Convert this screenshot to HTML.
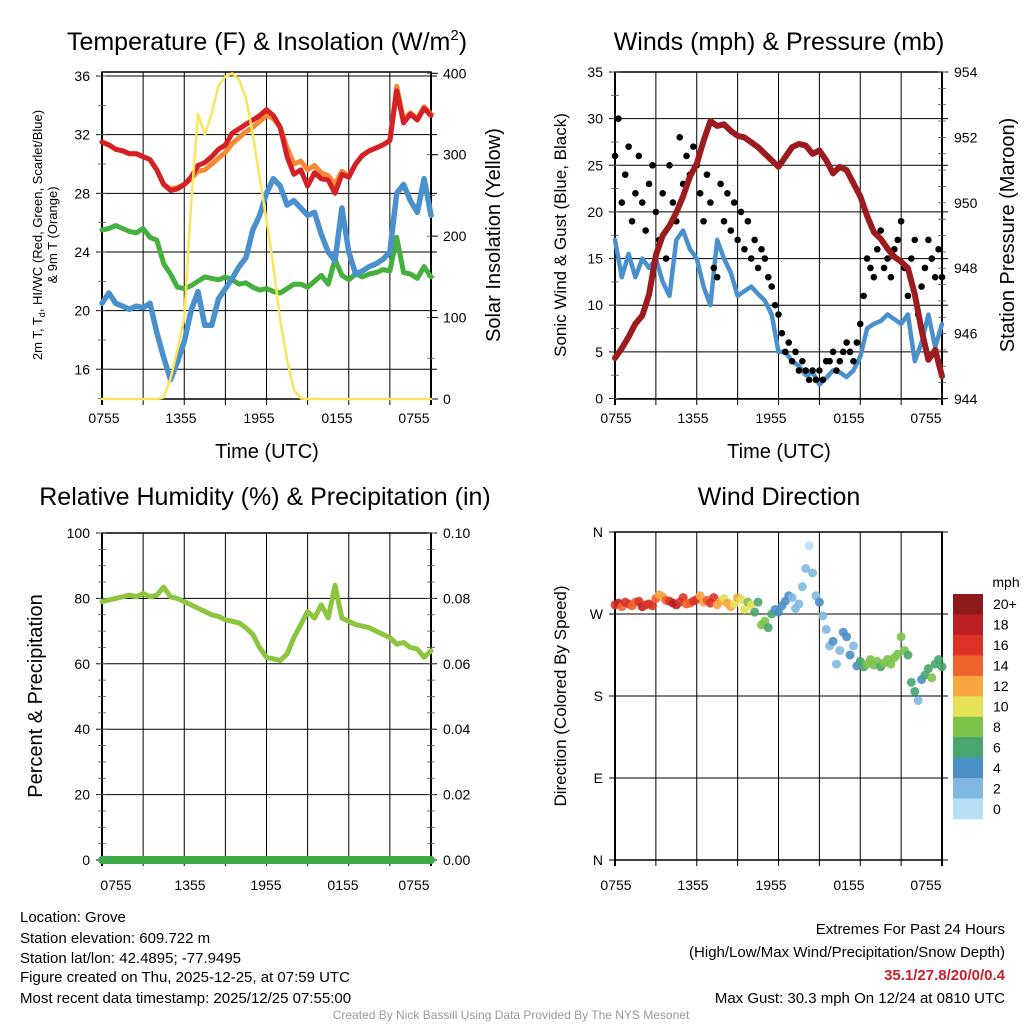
<!DOCTYPE html>
<html><head><meta charset="utf-8"><style>
html,body{margin:0;padding:0;background:#fff;}
svg{display:block;font-family:"Liberation Sans",sans-serif;}
</style></head><body>
<svg id="c" width="1024" height="1024" viewBox="0 0 1024 1024" xmlns="http://www.w3.org/2000/svg">
<g id="texts">
<text x="267" y="50" font-size="25" text-anchor="middle">Temperature (F) &amp; Insolation (W/m<tspan font-size="15" dy="-10">2</tspan><tspan dy="10">)</tspan></text>
<text x="779" y="50" font-size="25" text-anchor="middle">Winds (mph) &amp; Pressure (mb)</text>
<text x="265" y="505" font-size="25" text-anchor="middle">Relative Humidity (%) &amp; Precipitation (in)</text>
<text x="779" y="505" font-size="25" text-anchor="middle">Wind Direction</text>
<text x="267" y="458" font-size="20" text-anchor="middle">Time (UTC)</text>
<text x="779" y="458" font-size="20" text-anchor="middle">Time (UTC)</text>
<text transform="translate(42,235) rotate(-90)" font-size="13" text-anchor="middle">2m T, T<tspan font-size="9" dy="3">d</tspan><tspan dy="-3">, HI/WC (Red, Green, Scarlet/Blue)</tspan></text>
<text transform="translate(57,235) rotate(-90)" font-size="13" text-anchor="middle">&amp; 9m T (Orange)</text>
<text transform="translate(500,235) rotate(-90)" font-size="20" text-anchor="middle">Solar Insolation (Yellow)</text>
<text transform="translate(566,235) rotate(-90)" font-size="17" text-anchor="middle">Sonic Wind &amp; Gust (Blue, Black)</text>
<text transform="translate(1014,235) rotate(-90)" font-size="20" text-anchor="middle">Station Pressure (Maroon)</text>
<text transform="translate(42,696) rotate(-90)" font-size="20" text-anchor="middle">Percent &amp; Precipitation</text>
<text transform="translate(566,696) rotate(-90)" font-size="17" text-anchor="middle">Direction (Colored By Speed)</text>
<text x="1006" y="587" font-size="14" text-anchor="middle">mph</text>
<g font-size="15">
<text x="20" y="922">Location: Grove</text>
<text x="20" y="943">Station elevation: 609.722 m</text>
<text x="20" y="963">Station lat/lon: 42.4895; -77.9495</text>
<text x="20" y="982">Figure created on Thu, 2025-12-25, at 07:59 UTC</text>
<text x="20" y="1003">Most recent data timestamp: 2025/12/25 07:55:00</text>
</g>
<g font-size="15" text-anchor="end">
<text x="1005" y="934">Extremes For Past 24 Hours</text>
<text x="1005" y="957">(High/Low/Max Wind/Precipitation/Snow Depth)</text>
<text x="1005" y="980" fill="#c8202a" font-weight="bold">35.1/27.8/20/0/0.4</text>
<text x="1005" y="1003">Max Gust: 30.3 mph On 12/24 at 0810 UTC</text>
</g>
<text x="511" y="1019" font-size="12" fill="#999" text-anchor="middle">Created By Nick Bassill Using Data Provided By The NYS Mesonet</text>
</g>
</svg>
<script>
// ---- data ----
const timeLabels = ["0755","1355","1955","0155","0755"];
const tempRed = [31.5,31.3,31.0,30.9,30.7,30.7,30.5,30.3,29.6,28.6,28.2,28.3,28.6,29.1,29.9,30.1,30.5,31.0,31.3,32.1,32.4,32.7,33.0,33.3,33.7,33.3,32.5,30.5,29.3,29.6,28.5,29.4,29.0,28.9,28.0,29.3,29.1,30.0,30.6,30.9,31.1,31.3,31.6,35.0,32.8,33.4,33.0,33.8,33.3];
const tempOrange = [31.5,31.3,31.0,30.9,30.7,30.7,30.5,30.3,29.6,28.6,28.3,28.4,28.6,29.0,29.5,29.6,30.0,30.4,30.8,31.4,31.8,32.2,32.5,32.9,33.3,33.1,32.5,31.1,30.0,30.2,29.6,29.9,29.4,29.2,28.6,29.5,29.2,30.0,30.6,30.9,31.1,31.3,31.6,35.3,33.0,33.5,33.1,33.9,33.4];
const tempBlue = [20.5,21.2,20.5,20.3,20.1,20.3,20.2,20.5,18.5,16.8,15.3,16.5,17.9,20.0,21.3,19.0,19.0,20.8,21.5,22.2,23.0,23.6,25.5,26.5,28.0,29.0,28.5,27.2,27.5,27.0,26.5,26.7,25.2,24.0,23.4,27.0,24.0,22.5,22.7,23.0,23.2,23.5,24.0,28.0,28.6,27.5,26.7,29.0,26.5];
const tempGreen = [25.5,25.6,25.8,25.6,25.4,25.3,25.6,25.0,24.8,23.2,22.5,21.6,21.5,21.7,22.0,22.3,22.2,22.1,22.3,22.1,21.8,21.9,21.6,21.4,21.5,21.3,21.2,21.5,21.8,21.8,21.6,22.0,22.4,21.8,23.5,22.4,22.1,22.5,22.3,22.5,22.6,22.8,22.7,25.0,22.6,22.5,22.2,23.0,22.3];
const insolation = [0,0,0,0,0,0,0,0,0,2,25,60,100,240,350,325,350,385,396,400,392,370,325,272,220,163,97,48,11,1,0,0,0,0,0,0,0,0,0,0,0,0,0,0,0,0,0,0,0];
const tempTicks = [16,20,24,28,32,36];
const insoTicks = [0,100,200,300,400];
const pressure = [945.25,945.55,945.9,946.3,946.55,947.2,948.4,949.0,949.3,949.7,950.2,950.8,951.2,951.9,952.5,952.35,952.4,952.2,952.05,952.0,951.85,951.7,951.5,951.3,951.1,951.4,951.7,951.8,951.75,951.5,951.6,951.3,950.9,951.1,951.0,950.6,950.2,949.6,949.1,948.9,948.6,948.35,948.2,948.0,947.2,946.1,945.2,945.5,944.7];
const windSpeed = [17,13,15.5,13,15,14,15,12.5,11,17,18,16,15,12,10,17,15,13.5,11,11.5,12,11.2,10.5,9,5,5,4,3.5,2.5,2.8,1.5,2.2,3,2.8,2.3,3,4.5,7.5,8,8.3,9,8.5,8.0,9,4,6,9,5.5,8];
const gusts = [26,30,21,24,27,19,22,26,21,18,23,25, 20,17,22,15,25,21,19,28,23,26,24,27, 25,22,19,24,21,14,13,23,19,22,18,21, 17,20,16,19,15,17,14,16,15,13,12,10, 9,7,5,6,4,5,3,4,3,2,3,2, 3,2,4,4,5,3,4,5,6,5,4,6, 8,11,15,14,13,16,18,14,15,13,16,17, 19,14,11,15,17,9,12,14,17,15,13,16,13];
const windTicks = [0,5,10,15,20,25,30,35];
const presTicks = [944,946,948,950,952,954];
const rh = [79,79.5,80,80.5,81,80.5,81.5,80.5,81,83.5,80.5,80,79,78,77,76,75,74.5,73.5,73,72.5,71,69,65,62,61.5,61,63,68,72,76,74,78,74,84,74,73,72,71.5,71,70,69,68,66,66.5,65,64.5,62,64];
const precip = [0,0,0,0,0,0,0,0,0,0,0,0,0,0,0,0,0,0,0,0,0,0,0,0,0,0,0,0,0,0,0,0,0,0,0,0,0,0,0,0,0,0,0,0,0,0,0,0,0];
const rhTicks = [0,20,40,60,80,100];
const precipTicks = ["0.00","0.02","0.04","0.06","0.08","0.10"];
const dirDeg = [280,282,278,283,281,279,283,284,278,280,281,279, 287,291,289,285,284,282,280,283,288,281,282,284, 286,290,283,285,282,288,280,284,287,282,278,281, 288,286,275,283,280,272,283,258,262,255,270,275, 272,279,284,290,288,276,281,300,320,345,315,290, 283,268,253,235,240,215,230,250,245,225,235,213, 218,212,215,220,214,218,212,216,220,215,222,226, 245,230,225,195,185,175,198,203,210,200,215,220,212];
const dirSpeed = [17,18,15,16,17,14,15,16,18,17,16,17, 15,13,12,14,17,19,18,16,17,15,14,16, 16,13,12,14,17,16,12,13,11,12,13,10, 12,11,10,9,11,7,6,8,9,7,6,5, 4,4,5,4,3,3,2,3,2,1,3,3, 5,3,3,3,4,2,3,4,5,5,3,4, 6,7,8,8,9,8,7,8,9,8,9,8, 9,8,6,7,6,3,5,6,7,8,6,6,7];
const dirLabels = ["N","E","S","W","N"];
const cbLabels = ["20+","18","16","14","12","10","8","6","4","2","0"];
const cbColors = ["#8f1a1c","#bb1e23","#dc3326","#f0622b","#f6a541","#e6e156","#7cc24a","#48a56e","#4a8fc6","#7fb9e2","#b5e0f5"];

// ---- helpers ----
const NS="http://www.w3.org/2000/svg";
const svg=document.getElementById('c');
function mk(tag,attrs,parent){const e=document.createElementNS(NS,tag);for(const k in attrs)e.setAttribute(k,attrs[k]);(parent||svg).appendChild(e);return e;}
function lin(d0,d1,r0,r1){return v=>r0+(v-d0)/(d1-d0)*(r1-r0);}
function series(arr,xs,ys,g,stroke,w){
  const pts=arr.map((v,i)=>xs(i*24/(arr.length-1)).toFixed(1)+","+ys(v).toFixed(1)).join(" ");
  return mk('polyline',{points:pts,fill:'none',stroke:stroke,'stroke-width':w,'stroke-linejoin':'round','stroke-linecap':'round'},g);
}
function frame(L,T,R,B,name){
  const g=mk('g',{});
  
  
  for(let h=0;h<=24;h+=3){const x=L+(R-L)*h/24;const ln=mk('line',{x1:x,y1:T,x2:x,y2:B+6,stroke:'#000','stroke-width':h%24?1:2},g);
    
    }
  const bx=mk('rect',{x:L,y:T,width:R-L,height:B-T,fill:'none',stroke:'#000','stroke-width':1.5},g);
  
  
  return g;
}
function xLabels(pos,y,g){
  timeLabels.forEach((t,i)=>{const e=mk('text',{x:pos[i],y:y,'font-size':14,'text-anchor':'middle'},g);e.textContent=t;
    
    });
}
function hgrid(ys,vals,L,R,g,leftLab,fmt){
  vals.forEach(v=>{const y=ys(v);const l=mk('line',{x1:L-6,y1:y,x2:R+6,y2:y,stroke:'#000','stroke-width':1},g);
    
    
    if(leftLab){const t=mk('text',{x:L-12,y:y+5,'font-size':14,'text-anchor':'end'},g);t.textContent=fmt?fmt(v):v;
      
      }});
}
function rightLabels(ys,vals,labels,R,g){
  vals.forEach((v,i)=>{const t=mk('text',{x:R+12,y:ys(v)+5,'font-size':14},g);t.textContent=labels[i];
    
    });
}
function minor(ys,from,to,step,x,g){for(let v=from;v<=to+1e-9;v+=step){const y=ys(v);mk('line',{x1:x-4,y1:y,x2:x+4,y2:y,stroke:'#555','stroke-width':0.8},g);}}

// ---- Panel 1: temperature ----
{
const L=102,R=431,T=72,B=399;
const g=frame(L,T,R,B,'temp-panel');
const xs=lin(0,24,L,R), ys=lin(16,36,369.3,76), yi=lin(0,400,399,73.3);
hgrid(ys,tempTicks,L,R,g,true);
minor(ys,14,36,2,L,g); minor(yi,0,400,50,R,g);
rightLabels(yi,insoTicks,insoTicks,R,g);
insoTicks.forEach(v=>mk('line',{x1:R,y1:yi(v),x2:R+7,y2:yi(v),stroke:'#000'},g));
xLabels([104,181,259,337,414],423,g);
const s1=series(tempGreen,xs,ys,g,'#45b03e',5);  
const s2=series(tempBlue,xs,ys,g,'#4a90cc',5.5);  
const s3=series(tempOrange,xs,ys,g,'#f58a35',5);  
const s4=series(tempRed,xs,ys,g,'#d42026',5);  
const s5=series(insolation,xs,yi,g,'#fbe55a',2.5);  
}
// ---- Panel 2: wind & pressure ----
{
const L=615,R=942,T=72,B=399;
const g=frame(L,T,R,B,'wind-panel');
const xs=lin(0,24,L,R), ys=lin(0,35,398.5,72), yp=lin(944,954,399,72);
hgrid(ys,windTicks,L,R,g,true);
minor(ys,0,35,2.5,L,g); minor(yp,944,954,0.5,R,g);
rightLabels(yp,presTicks,presTicks,R,g);
xLabels([616,693,771,849,926],423,g);
const w=series(windSpeed,xs,ys,g,'#4a90cc',4.5);  
gusts.forEach((v,i)=>{const c=mk('circle',{cx:xs(i*24/(gusts.length-1)),cy:ys(v),r:3.3,fill:'#000'},g);
  
  });
const p=series(pressure,xs,yp,g,'#9b1b1e',6);  
}
// ---- Panel 3: RH ----
{
const L=102,R=431,T=533,B=860;
const g=frame(L,T,R,B,'rh-panel');
const xs=lin(0,24,L,R), ys=lin(0,100,860,533);
hgrid(ys,rhTicks,L,R,g,true);
minor(ys,0,100,5,L,g); minor(ys,0,100,5,R,g);
rightLabels(ys,rhTicks,precipTicks,R,g);
xLabels([116,190,266,343,414],890,g);
const r=series(rh,xs,ys,g,'#8cc63f',5);  
const yq=lin(0,0.1,860,533);
const pr=series(precip,xs,yq,g,'#3faa48',8);  
}
// ---- Panel 4: wind direction ----
{
const L=615,R=942,T=532,B=860;
const g=frame(L,T,R,B,'direction-panel');
const xs=lin(0,24,L,R), yd=lin(0,360,860,532);
const dv=[0,90,180,270,360];
hgrid(yd,dv,L,R,g,true,v=>dirLabels[dv.indexOf(v)]);
xLabels([616,693,771,849,926],890,g);
const col=s=>cbColors[10-Math.min(10,Math.floor(s/2))];
dirDeg.forEach((d,i)=>{const c=mk('circle',{cx:xs(i*24/(dirDeg.length-1)),cy:yd(d),r:4.5,fill:col(dirSpeed[i]),'fill-opacity':0.9},g);
  
  });
const cb=mk('g',{});


const bh=(819-594)/11;
cbColors.forEach((c,i)=>{const r=mk('rect',{x:953,y:594+i*bh,width:30,height:bh+0.3,fill:c},cb);
  
  
  const t=mk('text',{x:993,y:594+i*bh+bh/2+5,'font-size':14},cb);t.textContent=cbLabels[i];
  
  });
}
</script>
</body></html>
